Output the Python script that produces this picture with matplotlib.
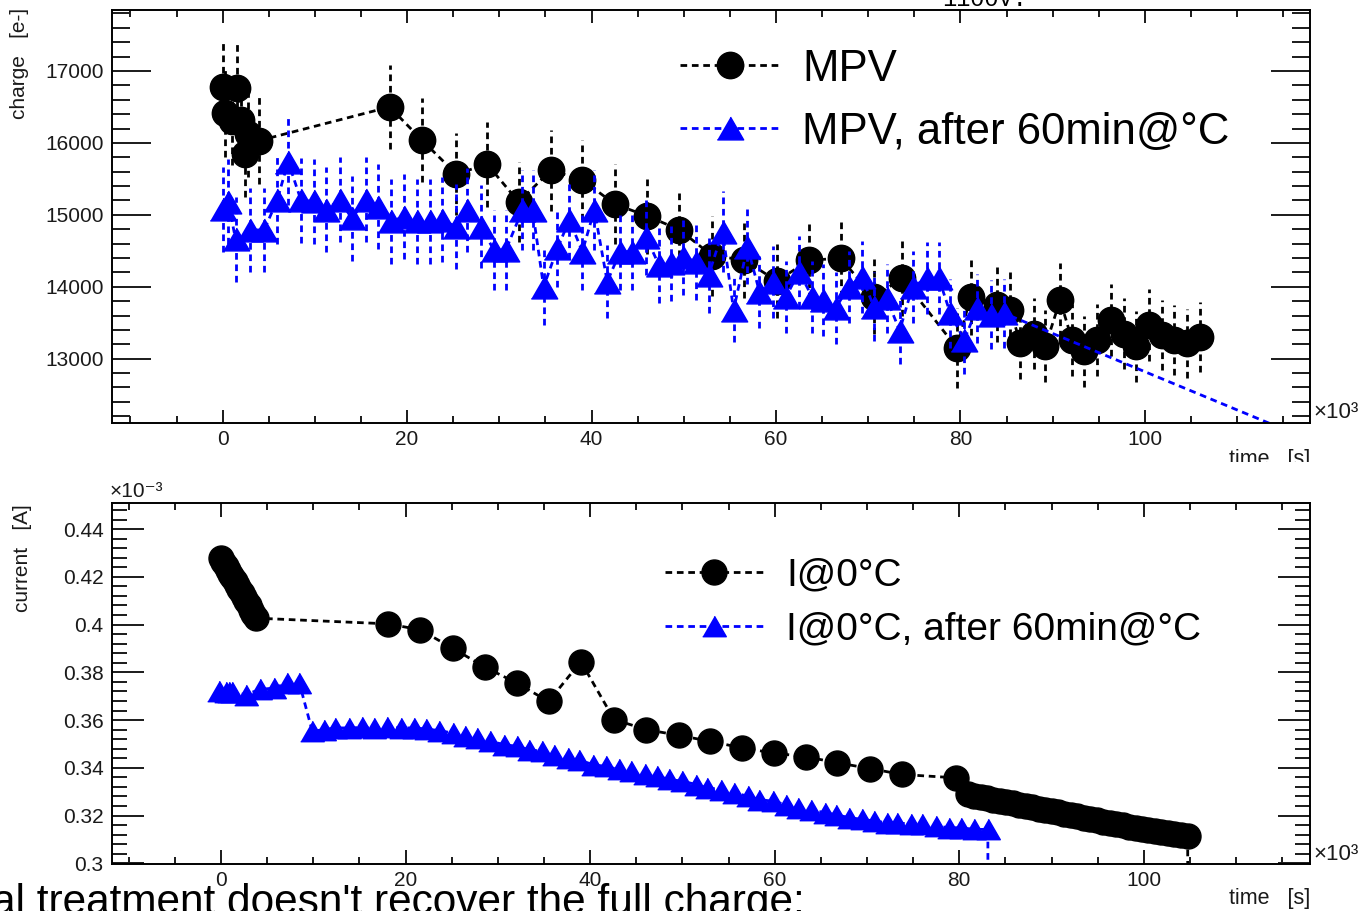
"""Charge (MPV) and leakage current vs. time, before and after annealing"""

import matplotlib

matplotlib.use("Agg")
import matplotlib.pyplot as plt
from matplotlib.ticker import MultipleLocator, FuncFormatter
from matplotlib.transforms import Bbox, TransformedBbox

plt.rcParams["font.family"] = ["Liberation Sans", "DejaVu Sans"]

# --- charge (MPV), time in units of 1e3 s --------------------------------
mpv_t = [0.0, 0.3, 1.0, 1.6, 2.0, 2.4, 2.8, 3.9,
         18.1, 21.6, 25.3, 28.7, 32.1, 35.6, 39.0, 42.5, 46.0, 49.5, 53.1,
         56.5, 60.1, 63.6, 67.0, 70.6, 73.7,
         79.6, 81.1, 84.0, 85.4,
         86.5, 88.0, 89.2, 90.8, 92.1, 93.4, 94.8, 96.3, 97.7, 99.0, 100.4,
         101.9, 103.1, 104.6, 106.0]
mpv_q = [16780, 16410, 16300, 16770, 16320, 15850, 16130, 16030,
         16500, 16040, 15570, 15700, 15180, 15620, 15485, 15150, 14985, 14795, 14430,
         14375, 14080, 14370, 14395, 13860, 14118,
         13150, 13860, 13750, 13680,
         13215, 13350, 13170, 13815, 13260, 13100, 13260, 13540, 13350, 13170, 13470,
         13330, 13260, 13215, 13305]
mpv_err = [605, 605, 605, 605, 605, 605, 605, 605,
           590, 580, 570, 595, 555, 560, 556, 555, 535, 533, 556,
           532, 520, 534, 533, 520, 520,
           557, 530, 520, 520,
           500, 500, 500, 510, 500, 500, 500, 500, 490, 490, 500,
           490, 490, 480, 490]

ann_t = [0.0, 0.6, 1.4, 3.0, 4.5, 5.9, 7.1, 8.5, 9.9, 11.2,
         12.7, 14.0, 15.5, 16.8, 18.3, 19.65, 21.1, 22.5, 23.8, 25.3,
         26.5, 28.0, 29.4, 30.7, 32.5, 33.6, 34.8, 36.3, 37.6, 39.0,
         40.3, 41.7, 43.1, 44.4, 45.9, 47.3, 48.6, 49.9, 51.3, 52.7,
         54.2, 55.4, 56.9, 58.2, 59.7, 61.1, 62.5, 63.9, 65.1, 66.45,
         67.9, 69.3, 70.6, 72.0, 73.4, 74.8, 76.4, 77.65, 78.9, 80.4,
         81.8, 83.3, 84.7, 160.0]
ann_q = [15080, 15180, 14660, 14790, 14790, 15200, 15740, 15200, 15190, 15070,
         15210, 14950, 15210, 15110, 14910, 14975, 14910, 14910, 14930, 14836,
         15068, 14836, 14512, 14512, 15068, 15068, 14000, 14536, 14929, 14489,
         15068, 14071, 14489, 14489, 14697, 14303, 14327, 14419, 14349, 14164,
         14766, 13678, 14558, 13932, 14071, 13863, 14210, 13863, 13817, 13701,
         14002, 14141, 13724, 13840, 13390, 14002, 14118, 14118, 13632, 13261,
         13701, 13608, 13632, 9630]
ann_err = [590, 590, 590, 590, 590, 600, 600, 590, 590, 590,
           590, 590, 590, 590, 590, 590, 590, 590, 590, 590,
           590, 580, 560, 560, 560, 560, 533, 540, 540, 540,
           560, 508, 540, 540, 540, 530, 530, 530, 530, 530,
           560, 450, 520, 500, 500, 500, 500, 500, 500, 500,
           500, 500, 480, 480, 460, 500, 500, 500, 480, 470,
           480, 480, 480, 0]

# --- current at 0 degC, in units of 1e-3 A --------------------------------
cur_t = [0.0, 0.25, 0.5, 0.75, 1.0, 1.25, 1.5, 1.75, 2.0, 2.25, 2.5, 2.75,
         3.0, 3.25, 3.5, 3.75,
         18.1, 21.6, 25.1, 28.6, 32.05, 35.5, 39.0, 42.6, 46.1, 49.6, 53.0,
         56.5, 59.9, 63.4, 66.8, 70.3, 73.8, 79.6,
         80.9, 81.6, 82.3, 83.0, 83.7, 84.4, 85.1, 85.8, 86.5, 87.2, 87.9,
         88.6, 89.3, 90.0, 90.7, 91.4, 92.1, 92.8, 93.5, 94.2, 94.9, 95.6,
         96.3, 97.0, 97.7, 98.4, 99.1, 99.8, 100.5, 101.2, 101.9, 102.6,
         103.3, 104.0, 104.75, 104.75]
cur_i = [0.4278, 0.4263, 0.4247, 0.4230, 0.4213, 0.4198, 0.4181, 0.4165,
         0.4147, 0.4131, 0.4114, 0.4098, 0.4080, 0.4063, 0.4046, 0.4027,
         0.4003, 0.3978, 0.3901, 0.3822, 0.3755, 0.3678, 0.3845, 0.3602,
         0.3560, 0.3536, 0.3511, 0.3483, 0.3462, 0.3446, 0.3421, 0.3397,
         0.3372, 0.3358,
         0.3289, 0.3283, 0.3278, 0.3272, 0.3267, 0.3262, 0.3257, 0.3252,
         0.3246, 0.3240, 0.3235, 0.3229, 0.3224, 0.3218, 0.3213, 0.3207,
         0.3202, 0.3196, 0.3191, 0.3186, 0.3181, 0.3175, 0.3170, 0.3165,
         0.3160, 0.3154, 0.3149, 0.3144, 0.3139, 0.3134, 0.3129, 0.3125,
         0.3121, 0.3117, 0.3113, 0.0]

cur_ann_t = [-0.2, 0.5, 0.9, 1.2, 2.7, 4.2, 5.7, 7.2, 8.5,
             9.9, 11.2, 12.4, 13.9, 15.3, 16.6, 18.0, 19.5, 20.9, 22.2,
             23.6, 25.1, 26.5, 27.8, 29.2, 30.7, 32.1, 33.4, 34.8, 36.1,
             37.6, 38.8, 40.3, 41.7, 43.1, 44.4, 45.9, 47.3, 48.6, 50.0,
             51.5, 52.7, 54.2, 55.6, 57.1, 58.3, 59.8, 61.2, 62.5, 63.9,
             65.4, 66.6, 68.1, 69.5, 70.8, 72.2, 73.3, 74.8, 76.0, 77.5,
             78.9, 80.2, 81.6, 83.1, 83.1]
cur_ann_i = [0.3721, 0.3716, 0.3716, 0.3716, 0.3707, 0.3728, 0.3734, 0.3755, 0.3755,
             0.3553, 0.3560, 0.3567, 0.3567, 0.3569, 0.3567, 0.3569, 0.3567, 0.3567,
             0.3563, 0.3556, 0.3546, 0.3532, 0.3525, 0.3511, 0.3497, 0.3490, 0.3476,
             0.3469, 0.3455, 0.3441, 0.3434, 0.3413, 0.3406, 0.3393, 0.3385, 0.3372,
             0.3365, 0.3351, 0.3344, 0.3330, 0.3316, 0.3309, 0.3295, 0.3281, 0.3267,
             0.3260, 0.3246, 0.3232, 0.3225, 0.3212, 0.3204, 0.3191, 0.3184, 0.3177,
             0.3170, 0.3170, 0.3163, 0.3163, 0.3156, 0.3149, 0.3149, 0.3142, 0.3142,
             0.0]

DASH = (0, (2.4, 1.7))
BLUE = "#0000ff"
INK = "#1a1a1a"
W, H = 1362, 911


def root_axes(ax, ymaj, ymin, ylen, xlen):
    """ROOT-like frame: ticks inside on all four sides"""
    for s in ax.spines.values():
        s.set_linewidth(1.4)
    ax.xaxis.set_major_locator(MultipleLocator(20))
    ax.xaxis.set_minor_locator(MultipleLocator(5))
    ax.yaxis.set_major_locator(MultipleLocator(ymaj))
    ax.yaxis.set_minor_locator(MultipleLocator(ymin))
    ax.tick_params(which="both", direction="in", top=True, right=True,
                   width=1.4, labelsize=15, colors=INK)
    ax.tick_params(axis="y", which="major", length=ylen, pad=6)
    ax.tick_params(axis="y", which="minor", length=ylen * 0.47)
    ax.tick_params(axis="x", which="major", length=xlen, pad=5)
    ax.tick_params(axis="x", which="minor", length=xlen * 0.5)
    ax.xaxis.set_major_formatter(FuncFormatter(lambda v, p: f"{v:g}"))
    ax.yaxis.set_major_formatter(FuncFormatter(lambda v, p: f"{v:g}"))


fig = plt.figure(figsize=(W / 100, H / 100), dpi=100)
ax1 = fig.add_axes([112 / W, 1 - 422.7 / H, 1198 / W, 412.7 / H])
ax2 = fig.add_axes([112 / W, 1 - 864 / H, 1198 / W, 360.7 / H])

# top pad: charge
eb = ax1.errorbar(mpv_t, mpv_q, yerr=mpv_err, fmt="none", ecolor="k", elinewidth=2.0)
eb[2][0].set_linestyle(DASH)
(l_mpv,) = ax1.plot(mpv_t, mpv_q, color="k", lw=2.0, ls=DASH, marker="o",
                    ms=19, mec="k", mfc="k")
eb = ax1.errorbar(ann_t, ann_q, yerr=ann_err, fmt="none", ecolor=BLUE, elinewidth=2.0)
eb[2][0].set_linestyle(DASH)
tri = [(-1, -0.866), (1, -0.866), (0, 0.866)]
(l_ann,) = ax1.plot(ann_t, ann_q, color=BLUE, lw=2.0, ls=DASH, marker=tri,
                    ms=19, mec=BLUE, mfc=BLUE)
ax1.set_xlim(-12.0, 117.9)
ax1.set_ylim(12110, 17848)
root_axes(ax1, 1000, 200, 28, 9.4)
ax1.legend([l_mpv, l_ann], ["MPV", "MPV, after 60min@°C"], loc="upper left",
           bbox_to_anchor=(0.474, 0.906), frameon=False, fontsize=31.5,
           handlelength=2.3, handletextpad=0.49, labelspacing=0.5,
           borderpad=0, borderaxespad=0)

# bottom pad: current
ax2.plot(cur_t, cur_i, color="k", lw=2.0, ls=DASH, marker="o", ms=18,
         mec="k", mfc="k", label="I@0°C")
ax2.plot(cur_ann_t, cur_ann_i, color=BLUE, lw=2.0, ls=DASH, marker=tri, ms=17,
         mec=BLUE, mfc=BLUE, label="I@0°C, after 60min@°C")
ax2.set_xlim(-11.8, 118.0)
ax2.set_ylim(0.2997, 0.4508)
root_axes(ax2, 0.02, 0.004, 23, 10)
ax2.legend(loc="upper left", bbox_to_anchor=(0.4616, 0.849), frameon=False,
           fontsize=28, handlelength=2.52, handletextpad=0.6, labelspacing=0.46,
           borderpad=0, borderaxespad=0)

# axis titles and exponents
fig.text(20 / W, 1 - 8 / H, "charge   [e-]", rotation=90, ha="center", va="top",
         fontsize=15, color=INK)
fig.text(23 / W, 1 - 504 / H, "current   [A]", rotation=90, ha="center", va="top",
         fontsize=15, color=INK)
t_top = fig.text(1310 / W, 1 - 449 / H, "time   [s]", ha="right", va="top",
                 fontsize=15.5, color=INK)
t_top.set_clip_box(TransformedBbox(Bbox([[0, 1 - 462 / H], [1, 1]]), fig.transFigure))
fig.text(1310 / W, 1 - 888 / H, "time   [s]", ha="right", va="top",
         fontsize=15.5, color=INK)
fig.text(1313 / W, 1 - 423 / H, "×10³", ha="left", va="bottom", fontsize=16,
         color=INK)
fig.text(1313 / W, 1 - 865 / H, "×10³", ha="left", va="bottom", fontsize=16,
         color=INK)
fig.text(110 / W, 1 - 501 / H, "×10⁻³", ha="left", va="bottom", fontsize=15,
         color=INK)

# slide text around the plot
fig.text(985 / W, 1 - 6 / H, "1100V.", family=["Liberation Mono", "DejaVu Sans Mono"],
         fontsize=17, ha="center", va="baseline")
fig.text(-8 / W, 1 - 914 / H, "al treatment doesn't recover the full charge:",
         fontsize=30.5, ha="left", va="baseline")

fig.savefig("out.png", dpi=100)
